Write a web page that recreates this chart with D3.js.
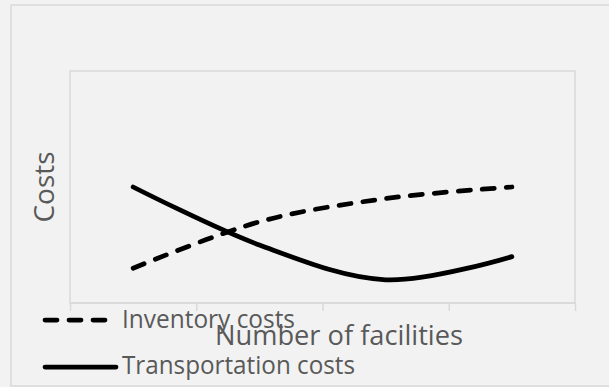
<!DOCTYPE html>
<html>
<head>
<meta charset="utf-8">
<script src="https://cdn.jsdelivr.net/npm/d3@7"></script>
<style>
  html, body { margin: 0; padding: 0; background: #f2f2f2; }
  svg { display: block; }
  text { font-family: "Open Sans", "Noto Sans", sans-serif; fill: #595959; }
</style>
</head>
<body>
<svg width="609" height="387"></svg>
<script>
// dados
var categorias = ['1', '2', '3', '4'];
var custoEstoque = [1.5, 3.5, 4.5, 5.0];      // Inventory costs
var custoTransporte = [5.0, 2.5, 1.0, 2.0];   // Transportation costs
var yDominio = [0, 10];
var nomesSeries = ['Inventory costs', 'Transportation costs'];

var svg = d3.select('svg');

// moldura externa
svg.append('rect').attr('x', 11).attr('y', 5).attr('width', 620).attr('height', 381)
    .attr('fill', '#f2f2f2').attr('stroke', '#d9d9d9').attr('stroke-width', 1.5);

var esq = 70, dir = 575, topo = 71, base = 303;

var x = d3.scaleBand().domain(categorias).range([esq, dir]);
var xBorda = d3.scaleLinear().domain([0, categorias.length]).range([esq, dir]);
var y = d3.scaleLinear().domain(yDominio).range([base, topo]);

// area do grafico
svg.append('rect').attr('x', esq).attr('y', topo).attr('width', dir - esq).attr('height', base - topo)
    .attr('fill', 'none').attr('stroke', '#d9d9d9').attr('stroke-width', 1.5);

// eixo x (so marcas)
var eixo = svg.append('g').attr('transform', 'translate(0,' + base + ')')
    .call(d3.axisBottom(xBorda).ticks(categorias.length).tickSize(8).tickFormat(''));
eixo.selectAll('path, line').attr('stroke', '#d9d9d9').attr('stroke-width', 1.5);
eixo.select('.domain').attr('d', 'M' + esq + ',0H' + dir);

var cx = function(d, i) { return x(categorias[i]) + x.bandwidth() / 2; };
var linha = d3.line().x(cx).y(function(d) { return y(d); }).curve(d3.curveCardinal.tension(0));

svg.append('path').datum(custoEstoque).attr('d', linha)
    .attr('fill', 'none').attr('stroke', '#000').attr('stroke-width', 4.75)
    .attr('stroke-linecap', 'round').attr('stroke-dasharray', '12 12');

svg.append('path').datum(custoTransporte).attr('d', linha)
    .attr('fill', 'none').attr('stroke', '#000').attr('stroke-width', 4.75)
    .attr('stroke-linecap', 'round');

// titulos dos eixos
svg.append('text').attr('transform', 'translate(54,187) rotate(-90)')
    .attr('text-anchor', 'middle').attr('font-size', 28).text('Costs');

svg.append('text').attr('x', 339).attr('y', 345)
    .attr('text-anchor', 'middle').attr('font-size', 28)
    .attr('textLength', 248).attr('lengthAdjust', 'spacingAndGlyphs')
    .text('Number of facilities');

// legenda
svg.append('line').attr('x1', 45).attr('x2', 108).attr('y1', 320).attr('y2', 320)
    .attr('stroke', '#000').attr('stroke-width', 4.75)
    .attr('stroke-linecap', 'round').attr('stroke-dasharray', '12 12');
svg.append('text').attr('x', 122).attr('y', 328).attr('font-size', 25)
    .attr('textLength', 173).attr('lengthAdjust', 'spacingAndGlyphs')
    .text(nomesSeries[0]);

svg.append('line').attr('x1', 45).attr('x2', 116).attr('y1', 367).attr('y2', 367)
    .attr('stroke', '#000').attr('stroke-width', 4.75).attr('stroke-linecap', 'round');
svg.append('text').attr('x', 122).attr('y', 374).attr('font-size', 25)
    .attr('textLength', 233).attr('lengthAdjust', 'spacingAndGlyphs')
    .text(nomesSeries[1]);
</script>
</body>
</html>
